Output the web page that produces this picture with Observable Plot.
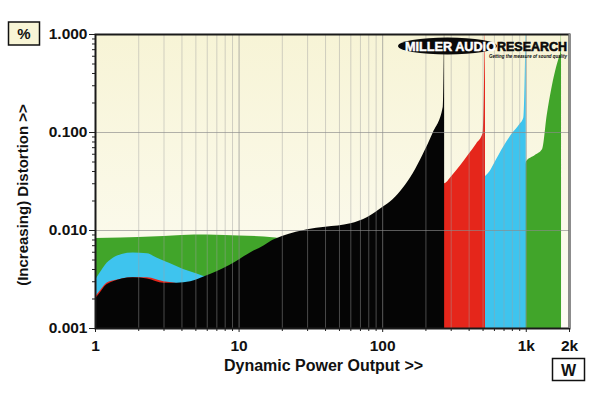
<!DOCTYPE html>
<html>
<head>
<meta charset="utf-8">
<script src="https://cdn.jsdelivr.net/npm/d3@7"></script>
<script src="https://cdn.jsdelivr.net/npm/@observablehq/plot@0.6"></script>
<style>
  html, body { margin: 0; padding: 0; background: #fff; }
  #chart { width: 600px; height: 393px; }
</style>
</head>
<body>
<div id="chart"></div>
<script>
// ---- axis ticks ----
const xTicks = [1, 10, 100, 1000, 2000];
const xTickLabels = ["1", "10", "100", "1k", "2k"];
const yTicks = [0.001, 0.01, 0.1, 1];
const yTickLabels = ["0.001", "0.010", "0.100", "1.000"];
const xMinor = [2, 3, 4, 5, 6, 7, 8, 9, 20, 30, 40, 50, 60, 70, 80, 90, 200, 300, 400, 500, 600, 700, 800, 900];
const xDecades = [10, 100, 1000];
const yMinor = [0.002, 0.003, 0.004, 0.005, 0.006, 0.007, 0.008, 0.009,
                0.02, 0.03, 0.04, 0.05, 0.06, 0.07, 0.08, 0.09,
                0.2, 0.3, 0.4, 0.5, 0.6, 0.7, 0.8, 0.9];
const yDecades = [0.01, 0.1];

// ---- series: dynamic power (W) vs distortion (%) ----
const blackPower = [1, 1.08, 1.17, 1.33, 1.53, 1.83, 2.3, 3, 3.7, 4.6, 5.8, 7, 8.6, 10.2, 12, 15, 17.4, 20, 25, 30, 40, 60, 78, 100, 118, 139, 163, 191, 225, 264, 270];
const blackTHD   = [0.0020, 0.0023, 0.0027, 0.0030, 0.0032, 0.0033, 0.0032, 0.0029, 0.0029, 0.0030, 0.0034, 0.0038, 0.0044, 0.0051, 0.0059, 0.0070, 0.0080, 0.0087, 0.0096, 0.0102, 0.0108, 0.0117, 0.0135, 0.0172, 0.0206, 0.027, 0.038, 0.059, 0.099, 0.18, 1.5];

const redPower = [1, 1.1, 1.2, 1.4, 1.8, 2.3, 3, 3.6, 4, 6, 10, 20, 40, 60, 78, 100, 200, 268, 270, 300, 350, 400, 450, 500, 520];
const redTHD   = [0.0021, 0.0025, 0.0029, 0.0031, 0.0033, 0.0033, 0.0030, 0.0029, 0.0028, 0.0032, 0.0048, 0.0082, 0.0102, 0.0112, 0.0130, 0.016, 0.030, 0.030, 0.030, 0.035, 0.046, 0.060, 0.076, 0.097, 1.5];

const bluePower = [1, 1.08, 1.17, 1.33, 1.53, 1.83, 2.3, 2.7, 3.3, 4.1, 5.1, 5.8, 7, 10, 20, 40, 60, 78, 100, 200, 270, 500, 525, 560, 600, 700, 800, 900, 960, 1000];
const blueTHD   = [0.0031, 0.0037, 0.0044, 0.0052, 0.0057, 0.0059, 0.0058, 0.0052, 0.0046, 0.0040, 0.0036, 0.0034, 0.0036, 0.0047, 0.0080, 0.0100, 0.0110, 0.0125, 0.015, 0.025, 0.027, 0.034, 0.036, 0.040, 0.048, 0.072, 0.097, 0.12, 0.14, 1.5];

const greenPower = [1, 1.5, 2, 3, 4, 6, 8, 10, 15, 18, 20, 30, 60, 100, 200, 270, 500, 525, 960, 1000, 1150, 1300, 1400, 1500, 1600, 1700, 1740, 1760];
const greenTHD   = [0.0083, 0.0084, 0.0085, 0.0087, 0.0089, 0.0090, 0.0089, 0.0088, 0.0086, 0.0084, 0.0082, 0.0092, 0.011, 0.014, 0.022, 0.025, 0.028, 0.030, 0.040, 0.050, 0.058, 0.067, 0.15, 0.27, 0.42, 0.58, 0.65, 1.5];

const colors = { black: "#050505", red: "#e5261b", blue: "#3ec4ee", green: "#41a52a" };

const table = (xs, ys) => xs.map((x, i) => ({ power: x, thd: ys[i] }));
const black = table(blackPower, blackTHD);
const red = table(redPower, redTHD);
const blue = table(bluePower, blueTHD);
const green = table(greenPower, greenTHD);

const xLabelMap = new Map(xTicks.map((d, i) => [d, xTickLabels[i]]));
const yLabelMap = new Map(yTicks.map((d, i) => [d, yTickLabels[i]]));
const FONT = "'Liberation Sans', Arial, Helvetica, sans-serif";
const floor = 0.001;

const areaOf = (data, fill) => Plot.area(data, {x1: "power", y1: () => floor, y2: "thd", fill, clip: true, curve: "monotone-x"});

const svg = Plot.plot({
  width: 600,
  height: 393,
  marginLeft: 95,
  marginRight: 31,
  marginTop: 34,
  marginBottom: 65,
  style: { fontFamily: FONT, background: "white", color: "#111", overflow: "visible" },
  x: { type: "log", domain: [1, 2000], label: null },
  y: { type: "log", domain: [0.001, 1], label: null },
  marks: [
    Plot.frame({ fill: "url(#bgGrad)" }),
    areaOf(green, colors.green),
    areaOf(blue, colors.blue),
    areaOf(red, colors.red),
    areaOf(black, colors.black),
    Plot.ruleX(xMinor, { stroke: "#a0a0a0", strokeOpacity: 0.45, strokeWidth: 1 }),
    Plot.ruleX(xDecades, { stroke: "#8a8a8a", strokeOpacity: 0.65, strokeWidth: 1 }),
    Plot.ruleY(yDecades, { stroke: "#8a8a8a", strokeOpacity: 0.65, strokeWidth: 1 }),
    Plot.axisX(xMinor, { anchor: "bottom", tickSize: 3, tickFormat: () => "", label: null, stroke: "#222" }),
    Plot.axisX(xTicks, { anchor: "bottom", tickSize: 4, tickPadding: 7, tickFormat: d => xLabelMap.get(d),
      fontSize: 15.5, fontWeight: "bold", label: null, stroke: "#222", fill: "#111" }),
    Plot.axisY(yMinor, { anchor: "left", tickSize: 3, tickFormat: () => "", label: null, stroke: "#222" }),
    Plot.axisY(yTicks, { anchor: "left", tickSize: 6, tickPadding: 2, tickFormat: d => yLabelMap.get(d),
      fontSize: 15.5, fontWeight: "bold", label: null, stroke: "#222", fill: "#111" }),
    Plot.frame({ stroke: "#1a1a1a", strokeWidth: 2 }),
    Plot.ruleX([2000], { stroke: "#8c8c8c", strokeWidth: 2 })
  ]
});

const s = d3.select(svg);
s.insert("defs", ":first-child").html(
  `<linearGradient id="bgGrad" x1="0" y1="0" x2="0" y2="1">
     <stop offset="0" stop-color="#f7f4d6"/>
     <stop offset="1" stop-color="#fdfcf4"/>
   </linearGradient>`);

const deco = s.append("g").attr("font-family", FONT).attr("text-anchor", "start");

// % unit box
deco.append("rect").attr("x", 8.5).attr("y", 22).attr("width", 31).attr("height", 23)
  .attr("fill", "#f8f5d6").attr("stroke", "#111").attr("stroke-width", 1.5);
deco.append("text").attr("x", 24).attr("y", 39).attr("text-anchor", "middle")
  .attr("font-size", 15).attr("font-weight", "bold").attr("fill", "#111").text("%");

// W unit box
deco.append("rect").attr("x", 552.5).attr("y", 358.5).attr("width", 32).attr("height", 22)
  .attr("fill", "#fff").attr("stroke", "#111").attr("stroke-width", 1.5);
deco.append("text").attr("x", 568.5).attr("y", 375.5).attr("text-anchor", "middle")
  .attr("font-size", 16).attr("font-weight", "bold").attr("fill", "#111").text("W");

// axis titles
deco.append("text").attr("transform", "translate(28,195) rotate(-90)").attr("text-anchor", "middle")
  .attr("font-size", 15).attr("font-weight", "bold").attr("fill", "#111").text("(Increasing) Distortion >>");
deco.append("text").attr("x", 323.5).attr("y", 371).attr("text-anchor", "middle")
  .attr("font-size", 16).attr("font-weight", "bold").attr("fill", "#111").text("Dynamic Power Output >>");

// logo
deco.append("ellipse").attr("cx", 447.5).attr("cy", 46).attr("rx", 49.5).attr("ry", 8.5).attr("fill", "#0a0a0a");
deco.append("text").attr("x", 405).attr("y", 51).attr("text-anchor", "start").attr("font-size", 13).attr("font-weight", "bold")
  .attr("fill", "#fff").attr("stroke", "#fff").attr("stroke-width", 0.5)
  .attr("textLength", 91).attr("lengthAdjust", "spacingAndGlyphs").text("MILLER AUDIO");
deco.append("text").attr("x", 497).attr("y", 51).attr("text-anchor", "start").attr("font-size", 13).attr("font-weight", "bold")
  .attr("fill", "#0a0a0a").attr("stroke", "#0a0a0a").attr("stroke-width", 0.6)
  .attr("textLength", 70).attr("lengthAdjust", "spacingAndGlyphs").text("RESEARCH");
deco.append("text").attr("x", 489).attr("y", 57.5).attr("text-anchor", "start").attr("font-size", 6).attr("font-weight", "bold")
  .attr("font-style", "italic").attr("fill", "#0a0a0a").attr("textLength", 78)
  .attr("lengthAdjust", "spacingAndGlyphs").text("Getting the measure of sound quality");

document.getElementById("chart").appendChild(svg);
</script>
</body>
</html>
